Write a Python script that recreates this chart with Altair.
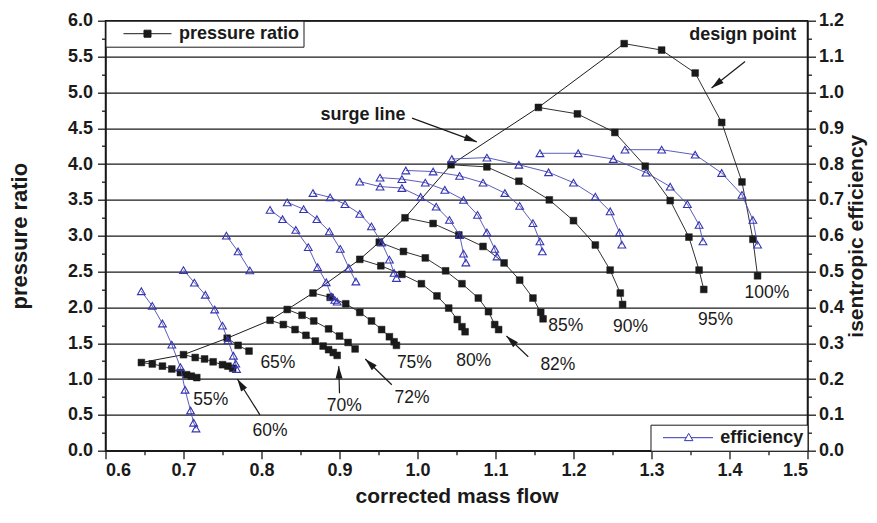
import math
import altair as alt
import pandas as pd

FONT = "Liberation Sans"
INK = "#1a1a1a"
BLUE = "#3434b4"
BLUE_LINE = "#4a4ab2"

X_MIN, X_MAX = 0.6, 1.5
P_MAX = 6.0
E_MAX = 1.2
W, H = 702, 430

# ---------------- pressure ratio speed lines ----------------
pr55_x = [0.646, 0.660, 0.673, 0.685, 0.696, 0.704, 0.710, 0.717]
pr55_y = [1.23, 1.21, 1.18, 1.14, 1.09, 1.06, 1.04, 1.02]
pr60_x = [0.700, 0.715, 0.727, 0.738, 0.750, 0.757, 0.763]
pr60_y = [1.34, 1.30, 1.28, 1.24, 1.20, 1.18, 1.15]
pr65_x = [0.756, 0.770, 0.784]
pr65_y = [1.57, 1.47, 1.39]
pr70_x = [0.811, 0.828, 0.843, 0.857, 0.869, 0.879, 0.886, 0.892, 0.897]
pr70_y = [1.82, 1.76, 1.69, 1.61, 1.53, 1.46, 1.41, 1.37, 1.33]
pr72_x = [0.833, 0.852, 0.867, 0.886, 0.900, 0.911, 0.920]
pr72_y = [1.97, 1.89, 1.81, 1.70, 1.60, 1.51, 1.42]
pr75_x = [0.866, 0.888, 0.908, 0.926, 0.941, 0.954, 0.964, 0.970, 0.973]
pr75_y = [2.20, 2.14, 2.05, 1.93, 1.81, 1.69, 1.59, 1.52, 1.47]
pr80_x = [0.926, 0.953, 0.980, 1.005, 1.025, 1.040, 1.051, 1.057, 1.061]
pr80_y = [2.67, 2.58, 2.46, 2.33, 2.16, 1.99, 1.83, 1.73, 1.66]
pr82_x = [0.951, 0.982, 1.010, 1.036, 1.057, 1.078, 1.091, 1.099, 1.104]
pr82_y = [2.91, 2.78, 2.69, 2.51, 2.33, 2.13, 1.94, 1.76, 1.69]
pr85_x = [0.984, 1.020, 1.053, 1.084, 1.111, 1.131, 1.148, 1.158, 1.161]
pr85_y = [3.25, 3.17, 3.01, 2.85, 2.62, 2.38, 2.13, 1.93, 1.84]
pr90_x = [1.043, 1.089, 1.130, 1.169, 1.200, 1.228, 1.247, 1.260, 1.263]
pr90_y = [3.99, 3.96, 3.76, 3.50, 3.21, 2.87, 2.52, 2.20, 2.04]
pr95_x = [1.155, 1.205, 1.253, 1.292, 1.324, 1.348, 1.361, 1.367]
pr95_y = [4.79, 4.70, 4.44, 3.97, 3.49, 2.98, 2.52, 2.25]
pr100_x = [1.265, 1.313, 1.356, 1.390, 1.416, 1.430, 1.436]
pr100_y = [5.68, 5.59, 5.27, 4.58, 3.75, 2.95, 2.44]

# ---------------- isentropic efficiency speed lines ----------------
ef55_x = [0.646, 0.660, 0.673, 0.685, 0.696, 0.702, 0.709, 0.713, 0.716]
ef55_y = [0.445, 0.404, 0.355, 0.296, 0.233, 0.170, 0.112, 0.078, 0.062]
ef60_x = [0.700, 0.714, 0.728, 0.740, 0.750, 0.757, 0.764, 0.767, 0.768]
ef60_y = [0.504, 0.469, 0.435, 0.394, 0.349, 0.308, 0.265, 0.243, 0.228]
ef65_x = [0.755, 0.770, 0.785]
ef65_y = [0.600, 0.556, 0.503]
ef70_x = [0.811, 0.827, 0.844, 0.860, 0.872, 0.883, 0.890, 0.894, 0.897]
ef70_y = [0.672, 0.646, 0.616, 0.568, 0.512, 0.470, 0.430, 0.421, 0.416]
ef72_x = [0.833, 0.854, 0.871, 0.887, 0.901, 0.912, 0.921]
ef72_y = [0.693, 0.674, 0.646, 0.612, 0.563, 0.510, 0.472]
ef75_x = [0.866, 0.888, 0.907, 0.926, 0.941, 0.954, 0.964, 0.970, 0.973]
ef75_y = [0.719, 0.707, 0.688, 0.661, 0.626, 0.581, 0.533, 0.496, 0.482]
ef80_x = [0.926, 0.952, 0.980, 1.004, 1.024, 1.041, 1.054, 1.059, 1.062]
ef80_y = [0.751, 0.737, 0.733, 0.708, 0.681, 0.644, 0.602, 0.550, 0.525]
ef82_x = [0.952, 0.980, 1.010, 1.035, 1.059, 1.077, 1.089, 1.099, 1.102]
ef82_y = [0.762, 0.758, 0.748, 0.728, 0.700, 0.658, 0.609, 0.563, 0.542]
ef85_x = [0.985, 1.020, 1.054, 1.084, 1.112, 1.131, 1.148, 1.157, 1.160]
ef85_y = [0.782, 0.779, 0.767, 0.748, 0.719, 0.683, 0.635, 0.584, 0.556]
ef90_x = [1.044, 1.089, 1.130, 1.168, 1.200, 1.228, 1.247, 1.259, 1.262]
ef90_y = [0.814, 0.818, 0.798, 0.777, 0.748, 0.709, 0.668, 0.609, 0.575]
ef95_x = [1.157, 1.206, 1.251, 1.293, 1.324, 1.346, 1.361, 1.366]
ef95_y = [0.830, 0.830, 0.814, 0.776, 0.737, 0.688, 0.630, 0.584]
ef100_x = [1.266, 1.313, 1.356, 1.390, 1.416, 1.430, 1.436]
ef100_y = [0.840, 0.840, 0.826, 0.775, 0.714, 0.644, 0.575]

# ---------------- annotations ----------------
speed_labels = ["55%", "60%", "65%", "70%", "72%", "75%", "80%", "82%", "85%", "90%", "95%", "100%"]
speed_label_x = [0.735, 0.811, 0.821, 0.906, 0.993, 0.996, 1.072, 1.180, 1.190, 1.273, 1.382, 1.448]
speed_label_y = [0.71, 0.27, 1.22, 0.62, 0.74, 1.22, 1.25, 1.20, 1.74, 1.73, 1.83, 2.20]

note_labels = ["surge line", "design point"]
note_x = [0.930, 1.417]
note_y = [4.69, 5.80]

arrow_x0 = [0.993, 1.420, 0.798, 0.900, 0.967, 1.142]
arrow_y0 = [4.64, 5.43, 0.50, 0.80, 0.92, 1.31]
arrow_x1 = [1.076, 1.377, 0.769, 0.899, 0.933, 1.114]
arrow_y1 = [4.31, 5.06, 1.00, 1.18, 1.28, 1.60]

# axis tick values (major and minor)
x_ticks = [round(X_MIN + 0.05 * i, 2) for i in range(19)]
p_ticks = [i * 0.25 for i in range(25)]
e_ticks = [round(i * 0.05, 2) for i in range(25)]

# ---------------- tables ----------------
pr_sets = [("55%", pr55_x, pr55_y), ("60%", pr60_x, pr60_y), ("65%", pr65_x, pr65_y),
           ("70%", pr70_x, pr70_y), ("72%", pr72_x, pr72_y), ("75%", pr75_x, pr75_y),
           ("80%", pr80_x, pr80_y), ("82%", pr82_x, pr82_y), ("85%", pr85_x, pr85_y),
           ("90%", pr90_x, pr90_y), ("95%", pr95_x, pr95_y), ("100%", pr100_x, pr100_y)]
ef_sets = [("55%", ef55_x, ef55_y), ("60%", ef60_x, ef60_y), ("65%", ef65_x, ef65_y),
           ("70%", ef70_x, ef70_y), ("72%", ef72_x, ef72_y), ("75%", ef75_x, ef75_y),
           ("80%", ef80_x, ef80_y), ("82%", ef82_x, ef82_y), ("85%", ef85_x, ef85_y),
           ("90%", ef90_x, ef90_y), ("95%", ef95_x, ef95_y), ("100%", ef100_x, ef100_y)]

pr_df = pd.DataFrame([{"speed": s, "flow": x, "pr": y, "series": "pressure ratio"}
                      for s, xs, ys in pr_sets for x, y in zip(xs, ys)])
ef_df = pd.DataFrame([{"speed": s, "flow": x, "eff": y, "series": "efficiency"}
                      for s, xs, ys in ef_sets for x, y in zip(xs, ys)])
surge_df = pd.DataFrame([{"flow": xs[0], "pr": ys[0]} for s, xs, ys in pr_sets])
speed_df = pd.DataFrame({"label": speed_labels, "flow": speed_label_x, "pr": speed_label_y})
note_df = pd.DataFrame({"label": note_labels, "flow": note_x, "pr": note_y})

px_x = W / (X_MAX - X_MIN)
px_y = H / P_MAX
angles = []
for a, b, c, d in zip(arrow_x0, arrow_y0, arrow_x1, arrow_y1):
    dxp = (c - a) * px_x
    dyp = -(d - b) * px_y
    angles.append(math.degrees(math.atan2(dxp, -dyp)) % 360)
arrow_df = pd.DataFrame({"flow": arrow_x0, "pr": arrow_y0, "x1": arrow_x1, "y1": arrow_y1, "ang": angles})
head_df = pd.DataFrame({"flow": arrow_x1, "pr": arrow_y1, "ang": angles})

# ---------------- axes ----------------
x_minor = "abs(datum.value*10 - round(datum.value*10)) > 0.001"
p_major = "abs(datum.value*2 - round(datum.value*2)) < 0.001"
p_minor = "abs(datum.value*2 - round(datum.value*2)) > 0.001"
e_minor = "abs(datum.value*10 - round(datum.value*10)) > 0.001"

common_axis = dict(
    labelFont=FONT, labelFontSize=18, labelFontWeight="bold", labelColor=INK,
    titleFont=FONT, titleFontWeight="bold", titleColor=INK,
    domainColor=INK, domainWidth=1.5, tickColor=INK, tickWidth=1.3, tickSize=8,
)


def minor_dash(test):
    return {"condition": {"test": test, "value": [4, 10]}, "value": [10, 0]}


x_axis = alt.Axis(
    values=x_ticks,
    labelExpr=f"{x_minor} ? '' : format(datum.value, '.1f')",
    tickDash=minor_dash(x_minor),
    labelPadding=3, grid=False,
    title="corrected mass flow", titleFontSize=21, titlePadding=6,
    **common_axis,
)
p_axis = alt.Axis(
    values=p_ticks,
    labelExpr=f"{p_minor} ? '' : format(datum.value, '.1f')",
    tickDash=minor_dash(p_minor),
    labelPadding=5,
    grid=True, gridColor=INK, gridWidth=1.3,
    gridOpacity={"condition": {"test": p_major, "value": 1}, "value": 0},
    title="pressure ratio", titleFontSize=22, titlePadding=36,
    **common_axis,
)
e_axis = alt.Axis(
    orient="right",
    values=e_ticks,
    labelExpr=f"{e_minor} ? '' : format(datum.value, '.1f')",
    tickDash=minor_dash(e_minor),
    labelPadding=3, grid=False,
    title="isentropic efficiency", titleFontSize=21, titlePadding=23, titleAngle=270,
    **common_axis,
)

x_scale = alt.Scale(domain=[X_MIN, X_MAX], nice=False, zero=False)
p_scale = alt.Scale(domain=[0, P_MAX], nice=False)
e_scale = alt.Scale(domain=[0, E_MAX], nice=False)


def X():
    return alt.X("flow:Q", scale=x_scale, axis=x_axis)


def Yp():
    return alt.Y("pr:Q", scale=p_scale, axis=p_axis)


def Ye():
    return alt.Y("eff:Q", scale=e_scale, axis=e_axis)


PATH_P = "M0.71,0H7.57M3.64,-0.5H4.64V0.5H3.64Z"
PATH_E = "M-0.07,0H3.26M3.94,0H7.07M3.6,-0.62L4.2,0.42L3.0,0.42Z"
ARROW = "M0,0L-0.5,1.8L0.5,1.8Z"
NB = "\u00a0\u00a0"

legend_common = dict(
    title=None, offset=0, padding=4, strokeColor=INK, fillColor="white",
    labelFont=FONT, labelFontSize=18, labelFontWeight="bold", labelColor=INK,
    symbolSize=196, symbolStrokeWidth=1,
    labelExpr=f"datum.label + '{NB}'",
)

# ---------------- pressure group ----------------
pr_lines = alt.Chart(pr_df).mark_line(color=INK, strokeWidth=0.9).encode(
    x=X(), y=Yp(), detail="speed:N", order="flow:Q")

surge = alt.Chart(surge_df).mark_line(color=INK, strokeWidth=1).encode(x=X(), y=Yp())

pr_points = alt.Chart(pr_df).mark_point(
    shape="square", filled=True, size=46, opacity=1, stroke=INK, strokeWidth=0.5).encode(
    x=X(), y=Yp(),
    color=alt.Color("series:N", scale=alt.Scale(domain=["pressure ratio"], range=[INK]),
                    legend=alt.Legend(orient="top-left", symbolType=PATH_P,
                                      symbolFillColor=INK, symbolStrokeColor=INK,
                                      labelOffset=51.5, **legend_common)))

speed_text = alt.Chart(speed_df).mark_text(
    font=FONT, fontSize=17.5, color=INK, align="center", baseline="middle").encode(
    x=X(), y=Yp(), text="label:N")

note_text = alt.Chart(note_df).mark_text(
    font=FONT, fontSize=18, fontWeight="bold", color=INK, align="center", baseline="middle").encode(
    x=X(), y=Yp(), text="label:N")

arrow_shaft = alt.Chart(arrow_df).mark_rule(color=INK, strokeWidth=1.2).encode(
    x=X(), y=Yp(), x2="x1:Q", y2="y1:Q")

arrow_head = alt.Chart(head_df).mark_point(
    shape=ARROW, filled=True, size=196, color=INK, opacity=1).encode(
    x=X(), y=Yp(), angle=alt.Angle("ang:Q", scale=None))

pressure_group = alt.layer(pr_lines, surge, pr_points, arrow_shaft, arrow_head, speed_text, note_text)

# ---------------- efficiency group ----------------
ef_lines = alt.Chart(ef_df).mark_line(color=BLUE_LINE, strokeWidth=0.9).encode(
    x=X(), y=Ye(), detail="speed:N", order="flow:Q")

ef_points = alt.Chart(ef_df).mark_point(
    shape="triangle-up", filled=False, size=60, strokeWidth=1.1, opacity=1).encode(
    x=X(), y=Ye(),
    color=alt.Color("series:N", scale=alt.Scale(domain=["efficiency"], range=[BLUE]),
                    legend=alt.Legend(orient="bottom-right", symbolType=PATH_E,
                                      symbolStrokeColor=BLUE, labelOffset=47.7,
                                      **legend_common)))

eff_group = alt.layer(ef_lines, ef_points)

chart = alt.layer(pressure_group, eff_group).resolve_scale(
    y="independent", color="independent").properties(
    width=W, height=H,
    autosize=alt.AutoSizeParams(type="none"),
    padding={"left": 97.5, "top": 12.7, "right": 61, "bottom": 57},
    background="white",
).configure_view(stroke=INK, strokeWidth=1.5)

chart.save("out.html", embed_options={"renderer": "svg", "actions": False})
